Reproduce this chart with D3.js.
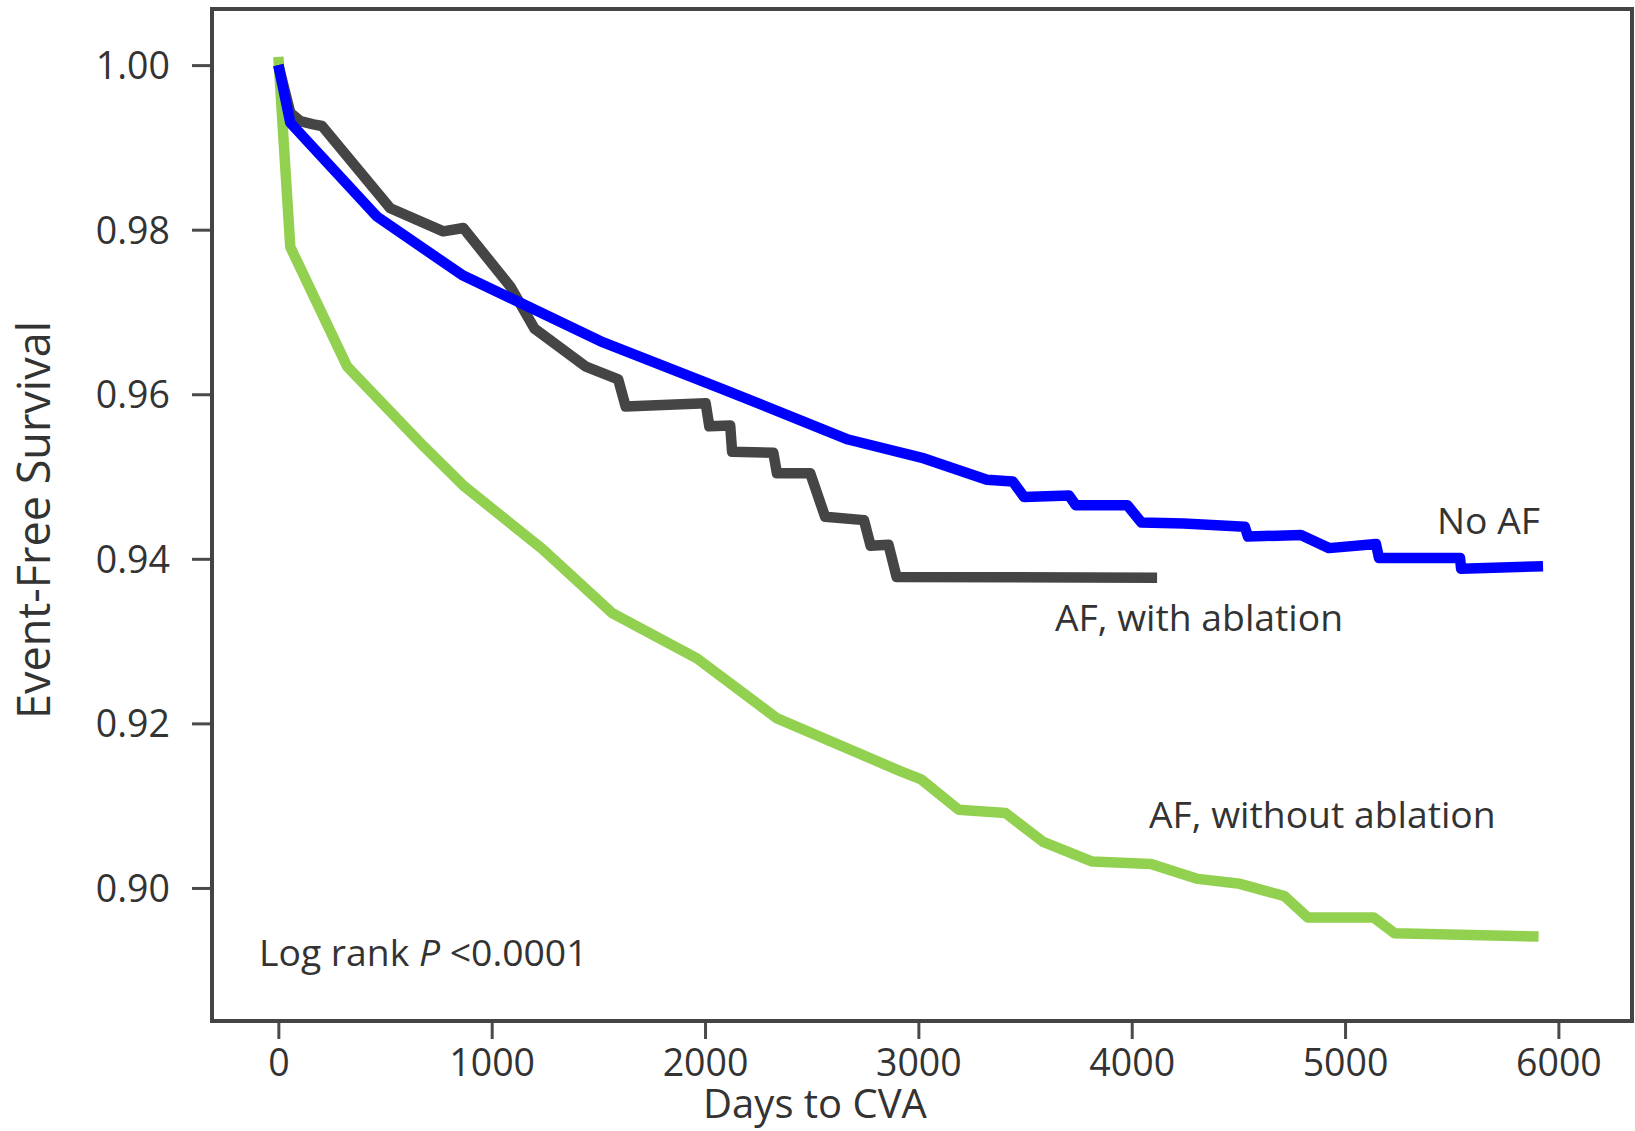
<!DOCTYPE html>
<html>
<head>
<meta charset="utf-8">
<script src="https://cdn.jsdelivr.net/npm/d3@7"></script>
<style>
  body { margin: 0; background: #fff; }
  svg text { font-family: "Open Sans", sans-serif; fill: #333; }
</style>
</head>
<body>
<div id="chart"></div>
<script>
// ---- data ----
const noAfDays = [0, 56, 462, 861, 1523, 2085, 2671, 3027, 3321, 3442, 3496, 3706, 3738, 3980, 4046, 4244, 4530, 4545, 4793, 4925, 5145, 5159, 5539, 5544, 5928];
const noAfSurv = [1.000, 0.9930, 0.9816, 0.9745, 0.9663, 0.9606, 0.9545, 0.9522, 0.9496, 0.9494, 0.9475, 0.9477, 0.9465, 0.9465, 0.9444, 0.9443, 0.9439, 0.9427, 0.9429, 0.9413, 0.9418, 0.9401, 0.9401, 0.9388, 0.9391];

const ablDays = [0, 56, 103, 164, 205, 525, 773, 867, 1087, 1200, 1439, 1593, 1628, 2003, 2020, 2118, 2127, 2320, 2337, 2493, 2563, 2745, 2776, 2860, 2898, 4119];
const ablSurv = [1.000, 0.9942, 0.9932, 0.9928, 0.9926, 0.9826, 0.9798, 0.9802, 0.9731, 0.9680, 0.9634, 0.9618, 0.9585, 0.9589, 0.9561, 0.9562, 0.9530, 0.9529, 0.9504, 0.9504, 0.9451, 0.9447, 0.9416, 0.9417, 0.9378, 0.9377];

const noAblDays = [0, 56, 322, 680, 872, 1237, 1565, 1962, 2338, 2915, 3013, 3189, 3409, 3585, 3815, 4090, 4310, 4507, 4716, 4826, 5134, 5232, 5907];
const noAblSurv = [1.001, 0.9779, 0.9634, 0.9537, 0.9488, 0.9412, 0.9334, 0.9279, 0.9206, 0.9142, 0.9132, 0.9095, 0.9091, 0.9056, 0.9032, 0.9029, 0.9011, 0.9005, 0.8990, 0.8964, 0.8964, 0.8945, 0.8941];

const xTicks = [0, 1000, 2000, 3000, 4000, 5000, 6000];
const yTicks = [0.90, 0.92, 0.94, 0.96, 0.98, 1.00];

const series = [
  { name: "AF, without ablation", days: noAblDays, surv: noAblSurv, color: "#92d050" },
  { name: "AF, with ablation", days: ablDays, surv: ablSurv, color: "#454545" },
  { name: "No AF", days: noAfDays, surv: noAfSurv, color: "#0000ff" }
];

// ---- layout ----
const W = 1635, H = 1131;
const frame = { left: 212, top: 9, right: 1632, bottom: 1021 };

const x = d3.scaleLinear().domain([-311, 6345]).range([frame.left, frame.right]);
const y = d3.scaleLinear().domain([0.88383, 1.00682]).range([frame.bottom, frame.top]);

const svg = d3.select("#chart").append("svg")
  .attr("width", W).attr("height", H);

// axes
const xAxis = svg.append("g")
  .attr("transform", `translate(0,${frame.bottom})`)
  .call(d3.axisBottom(x).tickValues(xTicks).tickSize(18).tickPadding(10).tickFormat(d3.format("d")));
const yAxis = svg.append("g")
  .attr("transform", `translate(${frame.left},0)`)
  .call(d3.axisLeft(y).tickValues(yTicks).tickSize(20).tickPadding(22).tickFormat(d3.format(".2f")));

[xAxis, yAxis].forEach(g => {
  g.select(".domain").remove();
  g.selectAll(".tick line").attr("stroke", "#4a4a4a").attr("stroke-width", 3);
  g.selectAll(".tick text").attr("font-size", 37.5).attr("fill", "#333");
});
xAxis.selectAll(".tick text").attr("dy", "0.71em");
yAxis.selectAll(".tick text").attr("dy", "0.36em");

// frame
svg.append("rect")
  .attr("x", frame.left).attr("y", frame.top)
  .attr("width", frame.right - frame.left).attr("height", frame.bottom - frame.top)
  .attr("fill", "none").attr("stroke", "#444").attr("stroke-width", 4);

// curves
const line = d3.line().x(d => x(d[0])).y(d => y(d[1]));
series.forEach(s => {
  svg.append("path")
    .datum(s.days.map((d, i) => [d, s.surv[i]]))
    .attr("d", line)
    .attr("fill", "none")
    .attr("stroke", s.color)
    .attr("stroke-width", 10.5)
    .attr("stroke-linejoin", "round")
    .attr("stroke-linecap", "butt");
});

// labels
svg.append("text").attr("x", 1540).attr("y", 521).attr("dy", "0.36em")
  .attr("text-anchor", "end").attr("font-size", 37.3).text("No AF");
svg.append("text").attr("x", 1055).attr("y", 618).attr("dy", "0.36em")
  .attr("font-size", 37.3).text("AF, with ablation");
svg.append("text").attr("x", 1149).attr("y", 815).attr("dy", "0.36em")
  .attr("font-size", 37.3).text("AF, without ablation");

const lr = svg.append("text").attr("x", 259).attr("y", 953).attr("dy", "0.36em").attr("font-size", 37.3);
lr.append("tspan").text("Log rank ");
lr.append("tspan").attr("font-style", "italic").text("P");
lr.append("tspan").text(" <0.0001");

// axis titles
svg.append("text").attr("x", 815).attr("y", 1118)
  .attr("text-anchor", "middle").attr("font-size", 40).text("Days to CVA");
svg.append("text")
  .attr("transform", "translate(34,520) rotate(-90)")
  .attr("text-anchor", "middle").attr("dy", "0.36em").attr("font-size", 45).text("Event-Free Survival");
</script>
</body>
</html>
